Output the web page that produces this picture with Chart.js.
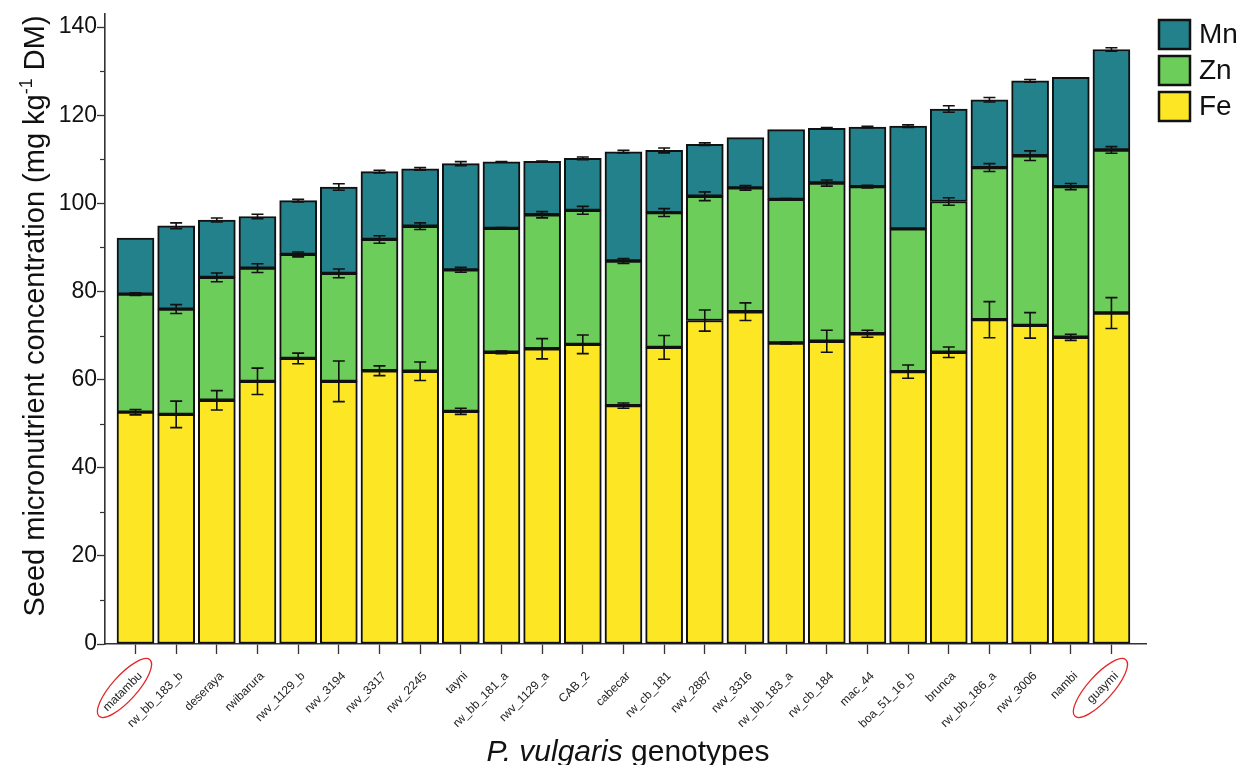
<!DOCTYPE html>
<html>
<head>
<meta charset="utf-8">
<script src="https://cdn.jsdelivr.net/npm/chart.js@4.4.1/dist/chart.umd.min.js"></script>
<style>
html,body{margin:0;padding:0;background:#fff;}
#wrap{width:1241px;height:765px;position:relative;}
</style>
</head>
<body>
<div id="wrap"><canvas id="c" width="1241" height="765"></canvas></div>
<script>
// ---- data (segment values, mg kg-1 DM) ----
const categories = ['matambu','rw_bb_183_b','deseraya','rwibarura','rwv_1129_b','rwv_3194','rwv_3317','rwv_2245','tayni','rw_bb_181_a','rwv_1129_a','CAB_2','cabecar','rw_cb_181','rwv_2887','rwv_3316','rw_bb_183_a','rw_cb_184','mac_44','boa_51_16_b','brunca','rw_bb_186_a','rwv_3006','nambi','guaymi'];
const fe = [52.6,52.1,55.3,59.6,64.8,59.6,62.0,61.9,52.8,66.2,67.0,68.0,54.1,67.3,73.4,75.4,68.3,68.7,70.4,61.8,66.2,73.6,72.3,69.6,75.1];
const zn = [26.8,23.9,27.9,25.7,23.6,24.5,29.8,32.9,32.1,28.1,30.4,30.4,32.8,30.6,28.2,28.1,32.6,35.9,33.4,32.4,34.2,34.5,38.5,34.2,37.0];
const mn = [12.7,18.9,13.0,11.7,12.2,19.6,15.4,13.0,24.1,15.1,12.1,11.8,24.8,14.1,11.8,11.4,15.8,12.4,13.5,23.3,21.0,15.4,17.0,24.8,22.8];
const feErr = [0.6,3.0,2.2,3.0,1.2,4.6,1.1,2.1,0.7,0.3,2.3,2.1,0.6,2.7,2.4,2.0,0.2,2.5,0.8,1.5,1.2,4.1,2.9,0.7,3.5];
const znErr = [0.3,1.0,1.0,1.0,0.55,1.0,0.85,0.75,0.55,0.2,0.7,0.9,0.55,0.9,1.0,0.5,0.15,0.7,0.3,0,0.85,0.9,1.1,0.7,0.75];
const mnErr = [0,0.65,0.45,0.5,0.3,0.75,0.3,0.3,0.45,0.1,0.1,0.3,0.3,0.55,0.3,0,0,0.2,0.15,0.3,0.75,0.5,0.3,0,0.4];
const yTickLabels = [0,20,40,60,80,100,120,140];
const yMinorTicks = [10,30,50,70,90,110,130];
const seriesNames = ['Fe','Zn','Mn'];
const seriesColors = ['#fde725','#6ccd5a','#23818c'];
const highlighted = ['matambu','guaymi'];

const FONT = "'Liberation Sans', Arial, Helvetica, sans-serif";
const INK = '#111';

const extras = {
  id: 'extras',
  afterDatasetsDraw(chart) {
    const {ctx, scales: {x, y}} = chart;
    ctx.save();
    ctx.strokeStyle = INK;
    ctx.lineWidth = 1.6;
    const series = [[fe, feErr], [zn, znErr], [mn, mnErr]];
    categories.forEach((c, i) => {
      let cum = 0;
      const px = x.getPixelForValue(i);
      series.forEach(([vals, errs]) => {
        cum += vals[i];
        const e = errs[i];
        if (!e) return;
        const y1 = y.getPixelForValue(cum - e), y2 = y.getPixelForValue(cum + e);
        ctx.beginPath();
        ctx.moveTo(px, y1); ctx.lineTo(px, y2);
        ctx.moveTo(px - 6, y1); ctx.lineTo(px + 6, y1);
        ctx.moveTo(px - 6, y2); ctx.lineTo(px + 6, y2);
        ctx.stroke();
      });
    });
    ctx.restore();
  },
  afterDraw(chart) {
    const {ctx, chartArea: a, scales: {x, y}} = chart;
    ctx.save();
    // minor y ticks
    ctx.strokeStyle = '#333'; ctx.lineWidth = 1.2;
    yMinorTicks.forEach(v => {
      const py = Math.round(y.getPixelForValue(v)) + 0.5;
      ctx.beginPath(); ctx.moveTo(a.left - 5, py); ctx.lineTo(a.left, py); ctx.stroke();
    });
    // y title with superscript
    ctx.fillStyle = INK;
    ctx.translate(44, 316);
    ctx.rotate(-Math.PI / 2);
    const big = '29px ' + FONT, small = '18px ' + FONT;
    const p1 = 'Seed micronutrient concentration (mg kg', sup = '-1', p2 = ' DM)';
    ctx.font = big; const w1 = ctx.measureText(p1).width, w3 = ctx.measureText(p2).width;
    ctx.font = small; const w2 = ctx.measureText(sup).width;
    let sx = -(w1 + w2 + w3) / 2;
    ctx.textBaseline = 'alphabetic';
    ctx.font = big; ctx.fillText(p1, sx, 0); sx += w1;
    ctx.font = small; ctx.fillText(sup, sx, -12); sx += w2;
    ctx.font = big; ctx.fillText(p2, sx, 0);
    ctx.setTransform(1, 0, 0, 1, 0, 0);
    // x title
    const it = 'italic 30px ' + FONT, nf = '30px ' + FONT;
    const t1 = 'P. vulgaris', t2 = ' genotypes';
    ctx.font = it; const a1 = ctx.measureText(t1).width;
    ctx.font = nf; const a2 = ctx.measureText(t2).width;
    let tx = 628 - (a1 + a2) / 2;
    ctx.textBaseline = 'alphabetic';
    ctx.font = it; ctx.fillText(t1, tx, 761); tx += a1;
    ctx.font = nf; ctx.fillText(t2, tx, 761);
    // legend (top to bottom: Mn, Zn, Fe)
    const order = [2, 1, 0];
    order.forEach((k, j) => {
      const ly = 20 + j * 36;
      ctx.fillStyle = seriesColors[k];
      ctx.fillRect(1159, ly, 31, 29);
      ctx.strokeStyle = INK; ctx.lineWidth = 2.5;
      ctx.strokeRect(1159, ly, 31, 29);
      ctx.fillStyle = INK; ctx.font = '28px ' + FONT; ctx.textBaseline = 'middle';
      ctx.fillText(seriesNames[k], 1199, ly + 15);
    });
    // red ellipses around highlighted genotypes
    ctx.strokeStyle = '#e3262b'; ctx.lineWidth = 1.3;
    highlighted.forEach(name => {
      const i = categories.indexOf(name);
      const px = x.getPixelForValue(i);
      ctx.beginPath();
      ctx.ellipse(px - 11, a.bottom + 44, 38, 12.5, -48 * Math.PI / 180, 0, Math.PI * 2);
      ctx.stroke();
    });
    ctx.restore();
  }
};

const mk = (label, vals, color) => ({
  label,
  data: vals.map((v, i) => ({x: i, y: v})),
  backgroundColor: color,
  borderColor: INK,
  borderWidth: 2,
  borderSkipped: false,
  barThickness: 37
});

new Chart(document.getElementById('c'), {
  type: 'bar',
  data: {
    datasets: [mk('Fe', fe, seriesColors[0]), mk('Zn', zn, seriesColors[1]), mk('Mn', mn, seriesColors[2])]
  },
  options: {
    responsive: false,
    animation: false,
    devicePixelRatio: 1,
    layout: {padding: {top: 13, right: 95, left: 0, bottom: 0}},
    plugins: {legend: {display: false}, tooltip: {enabled: false}},
    scales: {
      x: {
        type: 'linear',
        stacked: true,
        offset: false,
        min: -0.75,
        max: 24.85,
        afterBuildTicks: s => { s.ticks = categories.map((c, i) => ({value: i})); },
        afterFit: s => { s.height = 121; },
        ticks: {
          autoSkip: false,
          maxRotation: 45, minRotation: 45,
          padding: 15,
          labelOffset: 5,
          color: '#222',
          font: {family: FONT, size: 12},
          callback: v => categories[v] ?? ''
        },
        grid: {offset: false, drawOnChartArea: false, drawTicks: true, tickLength: 10, tickColor: '#333', tickWidth: 1.3},
        border: {display: true, color: '#333', width: 1.6}
      },
      y: {
        stacked: true,
        min: 0,
        max: 143,
        afterBuildTicks: s => { s.ticks = yTickLabels.map(v => ({value: v})); },
        afterFit: s => { s.width = 105; },
        ticks: {
          padding: 0,
          color: INK,
          font: {family: FONT, size: 23},
          callback: v => String(v)
        },
        grid: {drawOnChartArea: false, drawTicks: true, tickLength: 8, tickColor: '#333', tickWidth: 1.3},
        border: {display: true, color: '#333', width: 1.6}
      }
    }
  },
  plugins: [extras]
});
</script>
</body>
</html>
